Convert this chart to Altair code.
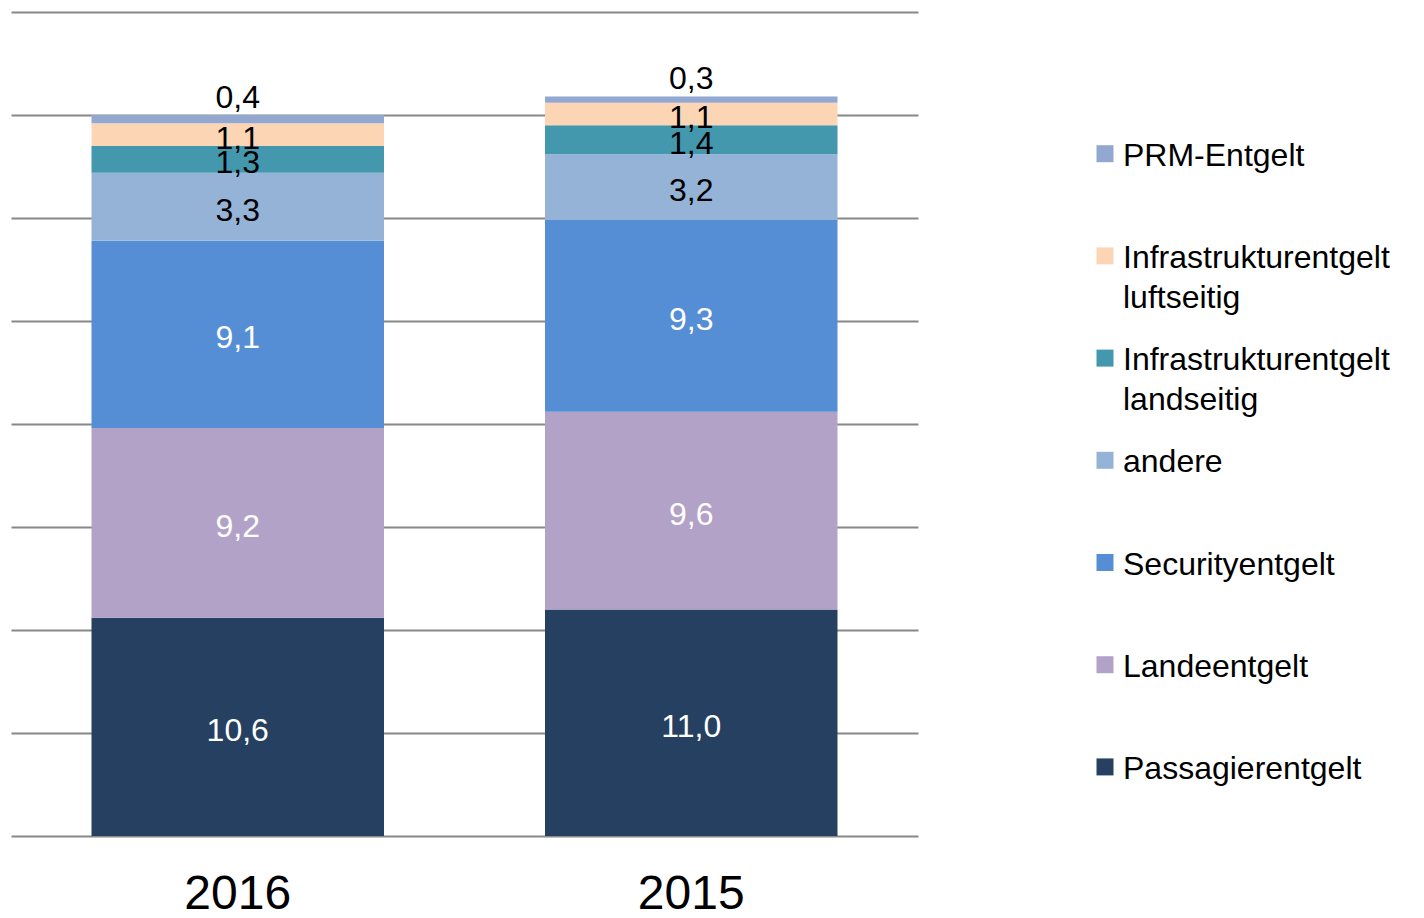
import altair as alt
import pandas as pd

years = ["2016", "2015"]
categories = [
    "Passagierentgelt",
    "Landeentgelt",
    "Securityentgelt",
    "andere",
    "Infrastrukturentgelt landseitig",
    "Infrastrukturentgelt luftseitig",
    "PRM-Entgelt",
]
values_2016 = [10.6, 9.2, 9.1, 3.3, 1.3, 1.1, 0.4]
values_2015 = [11.0, 9.6, 9.3, 3.2, 1.4, 1.1, 0.3]
colors = ["#264061", "#B3A2C7", "#558ED5", "#95B3D7", "#4398AE", "#FCD5B5", "#93A8D0"]
legend_line1 = ["Passagierentgelt", "Landeentgelt", "Securityentgelt", "andere",
                "Infrastrukturentgelt", "Infrastrukturentgelt", "PRM-Entgelt"]
legend_line2 = ["", "", "", "", "landseitig", "luftseitig", ""]

rows = []
for year, vals in zip(years, [values_2016, values_2015]):
    for i, (c, v) in enumerate(zip(categories, vals)):
        rows.append({"year": year, "cat": c, "order": i, "value": v,
                     "label": f"{v:.1f}".replace(".", ",")})
df = pd.DataFrame(rows)

FONT = "Liberation Sans"
color_scale = alt.Scale(domain=categories, range=colors)
y_scale = alt.Scale(domain=[0, 40], nice=False, zero=True)

base = alt.Chart(df).transform_stack(
    stack="value", groupby=["year"],
    sort=[alt.SortField("order", order="ascending")],
    as_=["v0", "v1"],
).transform_calculate(mid="(datum.v0 + datum.v1) / 2")

x_enc = alt.X(
    "year:N", sort=years,
    scale=alt.Scale(paddingInner=0.355, paddingOuter=0.1775),
    axis=alt.Axis(title=None, labelFontSize=48, labelFont=FONT, labelColor="black",
                  labelPadding=34, ticks=False, tickSize=0, domain=False, labelAngle=0),
)

bars = base.mark_bar().encode(
    x=x_enc,
    y=alt.Y("v0:Q", scale=y_scale,
            axis=alt.Axis(title=None, labels=False, ticks=False, domain=False, grid=True,
                          values=list(range(0, 41, 5)), gridColor="#888888",
                          gridWidth=2, gridOpacity=1)),
    y2="v1:Q",
    color=alt.Color("cat:N", scale=color_scale, legend=None),
)

labels = base.transform_filter("datum.order < 6").mark_text(
    font=FONT, fontSize=32, baseline="middle", dy=4
).encode(
    x=alt.X("year:N", sort=years),
    y=alt.Y("mid:Q", scale=y_scale),
    text="label:N",
    color=alt.condition("datum.order < 3", alt.value("white"), alt.value("black")),
)

top_labels = base.transform_filter("datum.order == 6").mark_text(
    font=FONT, fontSize=32, baseline="bottom", color="black"
).encode(
    x=alt.X("year:N", sort=years),
    y=alt.Y("v1:Q", scale=y_scale),
    text="label:N",
)

main = alt.layer(bars, labels, top_labels).properties(width=907, height=824)

ldf = pd.DataFrame({
    "cat": categories,
    "line1": legend_line1,
    "line2": legend_line2,
    "pos": [6 - i for i in range(len(categories))],
})
lbase = alt.Chart(ldf)
ly = alt.Y("pos:Q", scale=alt.Scale(domain=[6.676, -1.3865], nice=False, zero=False), axis=None)
swatches = lbase.mark_point(shape="square", filled=True, size=289, opacity=1).encode(
    x=alt.value(17), y=ly,
    color=alt.Color("cat:N", scale=color_scale, legend=None),
)
t1 = lbase.mark_text(font=FONT, fontSize=32, align="left", baseline="middle", dy=2,
                     color="black").encode(x=alt.value(35), y=ly, text="line1:N")
t2 = lbase.mark_text(font=FONT, fontSize=32, align="left", baseline="middle", dy=42,
                     color="black").encode(x=alt.value(35), y=ly, text="line2:N")
legend = alt.layer(swatches, t1, t2).properties(width=300, height=824)

chart = alt.hconcat(main, legend, spacing=170).properties(
    padding={"left": 3, "top": 4, "right": 0, "bottom": 0}
).configure_view(strokeWidth=0)

chart.save("out.html", embed_options={"renderer": "svg", "actions": False})
